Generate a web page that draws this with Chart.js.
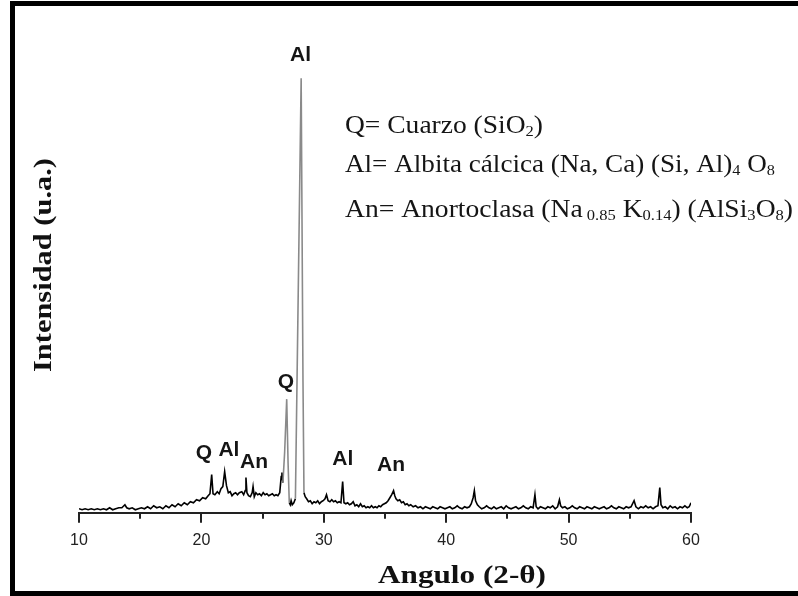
<!DOCTYPE html>
<html>
<head>
<meta charset="utf-8">
<script src="https://cdn.jsdelivr.net/npm/chart.js@4.4.1/dist/chart.umd.min.js"></script>
<style>
  html, body { margin: 0; padding: 0; background: #fff; }
  #wrap { width: 798px; height: 596px; position: relative; }
</style>
</head>
<body>
<div id="wrap"><canvas id="xrd"></canvas></div>
<script>
// Difractograma: 2-theta y su intensidad (u.a.)
const twoTheta = [
  10.0, 10.25, 10.5, 10.75, 11.0, 11.25, 11.5, 11.75, 12.0, 12.25, 12.5, 12.75, 13.0, 13.25, 13.5, 13.75, 13.9,
  14.1, 14.35, 14.6, 14.85, 15.1, 15.35, 15.6, 15.85, 16.1, 16.35, 16.6, 16.85, 17.1, 17.35, 17.6, 17.85,
  18.1, 18.35, 18.6, 18.85, 19.1, 19.35, 19.6, 19.85, 20.1, 20.35, 20.55, 20.7, 20.84, 20.95, 21.1, 21.3,
  21.45, 21.6, 21.75, 21.9, 22.05, 22.2, 22.35, 22.5, 22.65, 22.8, 22.95, 23.1, 23.3, 23.45, 23.58, 23.64,
  23.72, 23.85, 24.0, 24.15, 24.22, 24.32, 24.45, 24.6, 24.75, 24.9, 25.05, 25.2, 25.35, 25.5, 25.65, 25.8,
  25.95, 26.1, 26.25, 26.4, 26.52, 26.58, 26.66, 26.8, 26.97, 27.08, 27.18, 27.26, 27.33, 27.42, 27.55, 27.68,
  27.8, 28.15, 28.3, 28.38, 28.48, 28.6, 28.75, 28.9, 29.05, 29.2, 29.35, 29.5, 29.65, 29.8, 29.95, 30.1,
  30.22, 30.35, 30.5, 30.65, 30.8, 30.95, 31.1, 31.25, 31.4, 31.54, 31.65, 31.8, 31.95, 32.1, 32.25, 32.4,
  32.55, 32.7, 32.85, 33.0, 33.15, 33.3, 33.45, 33.6, 33.75, 33.9, 34.05, 34.2, 34.35, 34.5, 34.65, 34.8,
  34.95, 35.1, 35.25, 35.4, 35.55, 35.7, 35.8, 35.9, 36.05, 36.2, 36.35, 36.5, 36.65, 36.8, 36.95, 37.1,
  37.3, 37.5, 37.7, 37.9, 38.1, 38.3, 38.5, 38.7, 38.9, 39.1, 39.3, 39.5, 39.7, 39.9, 40.1, 40.3, 40.5,
  40.7, 40.9, 41.1, 41.3, 41.5, 41.7, 41.9, 42.05, 42.2, 42.3, 42.4, 42.55, 42.7, 42.9, 43.1, 43.3, 43.5,
  43.7, 43.9, 44.1, 44.3, 44.5, 44.7, 44.9, 45.1, 45.3, 45.5, 45.7, 45.9, 46.1, 46.3, 46.5, 46.7, 46.9,
  47.1, 47.25, 47.35, 47.5, 47.7, 47.9, 48.1, 48.3, 48.5, 48.7, 48.9, 49.1, 49.25, 49.35, 49.5, 49.7, 49.9,
  50.1, 50.3, 50.5, 50.7, 50.9, 51.1, 51.3, 51.5, 51.7, 51.9, 52.1, 52.3, 52.5, 52.7, 52.9, 53.1, 53.3,
  53.5, 53.7, 53.9, 54.1, 54.3, 54.5, 54.7, 54.9, 55.1, 55.35, 55.5, 55.7, 55.9, 56.1, 56.3, 56.5, 56.7,
  56.9, 57.1, 57.3, 57.45, 57.55, 57.7, 57.9, 58.1, 58.3, 58.5, 58.7, 58.9, 59.1, 59.3, 59.5, 59.7, 59.85, 60.0
];
const intensity = [
  4, 3, 4, 3, 4, 3, 4, 3, 4, 3, 5, 3, 4, 5, 5, 8, 5,
  4, 5, 3, 4, 5, 4, 6, 4, 7, 5, 6, 4, 7, 5, 8, 6,
  9, 7, 10, 8, 11, 10, 13, 12, 15, 14, 17, 19, 38, 19, 18, 21,
  19, 24, 26, 41, 27, 20, 21, 17, 19, 20, 18, 20, 21, 18, 22, 35,
  20, 17, 16, 20, 26, 16, 20, 18, 19, 17, 20, 18, 19, 17, 18, 19,
  17, 18, 17, 20, 36, 40, 30, 60, 113, 50, 10, 8, 12, 8, 10, 14,
  120, 432, 130, 20, 16, 14, 11, 12, 9, 11, 10, 12, 9, 11, 12, 14,
  18, 12, 11, 13, 11, 12, 10, 11, 10, 31, 10, 9, 10, 8, 9, 11,
  7, 8, 6, 9, 6, 7, 5, 6, 5, 7, 5, 6, 5, 7, 6, 8,
  9, 10, 12, 15, 18, 22, 17, 14, 12, 13, 10, 11, 8, 9, 7, 8,
  6, 7, 5, 6, 4, 6, 5, 4, 6, 5, 4, 6, 5, 4, 5, 6, 4,
  5, 7, 5, 4, 6, 5, 6, 9, 15, 22, 12, 8, 6, 4, 5, 7, 5,
  4, 6, 4, 5, 6, 4, 7, 5, 4, 5, 6, 4, 5, 7, 5, 4, 6,
  5, 18, 6, 4, 6, 5, 4, 6, 5, 7, 4, 6, 13, 7, 5, 6, 4,
  5, 7, 5, 4, 6, 5, 4, 6, 5, 4, 6, 5, 4, 5, 6, 4, 5,
  7, 5, 4, 6, 5, 4, 6, 5, 6, 12, 6, 4, 6, 5, 7, 5, 6,
  4, 6, 7, 25, 8, 5, 6, 4, 7, 5, 6, 4, 6, 5, 7, 5, 6, 10
];

// Marcas del eje x
const xTicks = [10, 20, 30, 40, 50, 60];
const xMinorTicks = [15, 25, 35, 45, 55];

// Etiquetas de los picos (fase, posición 2-theta, altura)
const peakNames = ['Al', 'Q', 'Q', 'Al', 'An', 'Al', 'An'];
const peakAngle = [28.1, 26.9, 20.2, 22.25, 24.3, 31.55, 35.5];
const peakLevel = [455, 130, 59, 62, 50, 53, 47];

// Leyenda de fases (texto, subíndice)
const phaseLegend = [
  [['Q= Cuarzo (SiO', 0], ['2', 1], [')', 0]],
  [['Al= Albita cálcica (Na, Ca) (Si, Al)', 0], ['4', 1], [' O', 0], ['8', 1]],
  [['An= Anortoclasa (Na', 0], [' 0.85', 1], [' K', 0], ['0.14', 1], [') (AlSi', 0], ['3', 1], ['O', 0], ['8', 1], [')', 0]]
];

const SERIF = '"Liberation Serif", "Times New Roman", serif';
const SANS = '"Liberation Sans", Arial, sans-serif';

// texto estirado a un ancho dado
function drawFit(ctx, text, x, y, width, font) {
  ctx.save();
  ctx.font = font;
  const w = ctx.measureText(text).width;
  ctx.translate(x, y);
  ctx.scale(width / w, 1);
  ctx.textAlign = 'center';
  ctx.fillText(text, 0, 0);
  ctx.restore();
}

function drawRich(ctx, runs, x, y, width, size) {
  const fontOf = sub => (sub ? Math.round(size * 0.6) : size) + 'px ' + SERIF;
  let total = 0;
  runs.forEach(r => { ctx.font = fontOf(r[1]); total += ctx.measureText(r[0]).width; });
  ctx.save();
  ctx.translate(x, y);
  ctx.scale(width / total, 1);
  ctx.textAlign = 'left';
  ctx.textBaseline = 'alphabetic';
  let cx = 0;
  runs.forEach(r => {
    ctx.font = fontOf(r[1]);
    ctx.fillText(r[0], cx, r[1] ? 3 : 0);
    cx += ctx.measureText(r[0]).width;
  });
  ctx.restore();
}

const decorations = {
  id: 'decorations',
  beforeDraw(chart) {
    const ctx = chart.ctx;
    ctx.save();
    ctx.fillStyle = '#fff';
    ctx.fillRect(0, 0, chart.width, chart.height);
    ctx.fillStyle = '#000';
    ctx.fillRect(10, 1, chart.width - 10, 5);
    ctx.fillRect(10, 1, 5, chart.height - 1);
    ctx.fillRect(10, chart.height - 5, chart.width - 10, 5);
    ctx.restore();
  },
  afterDraw(chart) {
    const ctx = chart.ctx;
    const xs = chart.scales.x, ys = chart.scales.y;
    const bottom = chart.chartArea.bottom;
    ctx.save();
    // marcas menores
    ctx.strokeStyle = '#222';
    ctx.lineWidth = 2;
    xMinorTicks.forEach(v => {
      const px = Math.round(xs.getPixelForValue(v));
      ctx.beginPath();
      ctx.moveTo(px, bottom);
      ctx.lineTo(px, bottom + 6);
      ctx.stroke();
    });
    // etiquetas de picos
    ctx.fillStyle = '#151515';
    ctx.font = 'bold 21px ' + SANS;
    ctx.textAlign = 'center';
    ctx.textBaseline = 'middle';
    peakNames.forEach((n, i) => {
      ctx.fillText(n, xs.getPixelForValue(peakAngle[i]), ys.getPixelForValue(peakLevel[i]));
    });
    // leyenda
    ctx.fillStyle = '#151515';
    drawRich(ctx, phaseLegend[0], 345, 133, 198, 25);
    drawRich(ctx, phaseLegend[1], 345, 172, 430, 25);
    drawRich(ctx, phaseLegend[2], 345, 217, 448, 25);
    // títulos de ejes
    ctx.fillStyle = '#111';
    ctx.textBaseline = 'alphabetic';
    drawFit(ctx, 'Angulo (2-θ)', 462, 583, 168, 'bold 25px ' + SERIF);
    ctx.save();
    ctx.translate(51, 265);
    ctx.rotate(-Math.PI / 2);
    drawFit(ctx, 'Intensidad (u.a.)', 0, 0, 214, 'bold 25px ' + SERIF);
    ctx.restore();
    ctx.restore();
  }
};

new Chart(document.getElementById('xrd'), {
  type: 'line',
  data: {
    datasets: [{
      data: twoTheta.map((t, i) => ({ x: t, y: intensity[i] })),
      borderColor: '#000',
      borderWidth: 1.6,
      pointRadius: 0,
      tension: 0,
      fill: false,
      segment: {
        borderColor: c => Math.abs(c.p1.y - c.p0.y) > 30 ? '#8a8a8a' : '#000'
      }
    }]
  },
  options: {
    responsive: true,
    maintainAspectRatio: false,
    animation: false,
    layout: { padding: { left: 79, right: 107, top: 20, bottom: 38 } },
    plugins: { legend: { display: false }, tooltip: { enabled: false } },
    scales: {
      x: {
        type: 'linear',
        min: 10,
        max: 60,
        afterBuildTicks: s => { s.ticks = xTicks.map(v => ({ value: v })); },
        border: { display: true, color: '#222', width: 2 },
        grid: { drawOnChartArea: false, drawTicks: true, tickLength: 10, color: '#222', lineWidth: 2 },
        ticks: { color: '#222', font: { family: SANS, size: 16 }, padding: 8, maxRotation: 0 }
      },
      y: {
        display: false,
        min: 0,
        max: 490
      }
    }
  },
  plugins: [decorations]
});
</script>
</body>
</html>
